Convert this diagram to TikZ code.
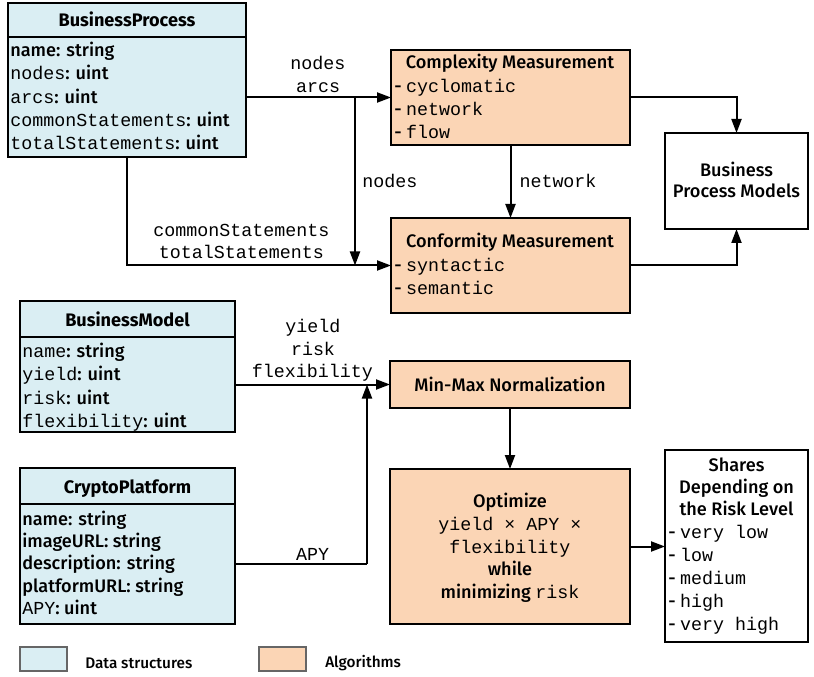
\documentclass[tikz,border=0pt]{standalone}
\usepackage{fontspec}
\setmainfont{Fira Sans Medium}[BoldFont={Fira Sans Bold}]
\newfontfamily\monofam{Liberation Mono}
\usetikzlibrary{arrows.meta,calc}
\definecolor{dsblue}{HTML}{DAEEF3}
\definecolor{algo}{HTML}{FBD5B5}
\newcommand\mtt[1]{{\monofam\fontsize{13.75pt}{16pt}\selectfont #1}}
\begin{document}
\begin{tikzpicture}[x=0.75pt,y=-0.75pt,
  box/.style={draw, line width=1.5pt, inner sep=0pt, outer sep=0pt},
  ds/.style={box, fill=dsblue},
  al/.style={box, fill=algo},
  wb/.style={box, fill=white},
  txt/.style={inner sep=0pt, anchor=base, yshift=-1.5pt, font=\fontsize{13.6pt}{15pt}\selectfont},
  ltxt/.style={txt, anchor=base west},
  htxt/.style={txt, font=\fontsize{13.6pt}{15pt}\selectfont\bfseries},
  arr/.style={line width=1.5pt, -{Triangle[length=10.5pt,width=7.5pt]}},
  ln/.style={line width=1.5pt},
  leg/.style={draw=gray!80!black, line width=1.2pt, minimum width=35.25pt, minimum height=18pt, inner sep=0pt}
]
\useasboundingbox (0,0) rectangle (814,677);
% ---------- BusinessProcess
\node[ds, minimum width=178.5pt, minimum height=115.5pt] (BP) at (127,80) {};
\draw[ln] ($(BP.north west)+(0,34)$) -- ($(BP.north east)+(0,34)$);
\node[htxt] (BPh) at (127,25) {BusinessProcess};
\node[ltxt] (BP1) at (10,55) {name: string};
\node[ltxt] (BP2) at (10,78) {\mtt{nodes}: uint};
\node[ltxt] (BP3) at (10,102) {\mtt{arcs}: uint};
\node[ltxt] (BP4) at (10,125) {\mtt{commonStatements}: uint};
\node[ltxt] (BP5) at (10,148) {\mtt{totalStatements}: uint};
% ---------- Complexity
\node[al, minimum width=179.25pt, minimum height=71.25pt] (CM) at (510.5,97.5) {};
\node[txt] (CMh) at (510,67) {Complexity Measurement};
\node[ltxt] (CM1) at (394,91) {- \mtt{cyclomatic}};
\node[ltxt] (CM2) at (394,114) {- \mtt{network}};
\node[ltxt] (CM3) at (394,137) {- \mtt{flow}};
% ---------- Conformity
\node[al, minimum width=179.25pt, minimum height=71.25pt] (CF) at (510.5,265.5) {};
\node[txt] (CFh) at (510,246) {Conformity Measurement};
\node[ltxt] (CF1) at (394,270) {- \mtt{syntactic}};
\node[ltxt] (CF2) at (394,293) {- \mtt{semantic}};
% ---------- Business Process Models
\node[wb, minimum width=107.25pt, minimum height=72pt] (BPM) at (736.5,181) {};
\node[txt] (BPM1) at (736.5,175) {Business};
\node[txt] (BPM2) at (736.5,196) {Process Models};
% ---------- BusinessModel
\node[ds, minimum width=161.25pt, minimum height=98.25pt] (BM) at (127.5,366.5) {};
\draw[ln] ($(BM.north west)+(0,36)$) -- ($(BM.north east)+(0,36)$);
\node[htxt] (BMh) at (127.5,324) {BusinessModel};
\node[ltxt] (BM1) at (22,356) {\mtt{name}: string};
\node[ltxt] (BM2) at (22,378) {\mtt{yield}: uint};
\node[ltxt] (BM3) at (22,402) {\mtt{risk}: uint};
\node[ltxt] (BM4) at (22,425) {\mtt{flexibility}: uint};
% ---------- CryptoPlatform
\node[ds, minimum width=161.25pt, minimum height=117pt] (CP) at (127.5,546) {};
\draw[ln] ($(CP.north west)+(0,36)$) -- ($(CP.north east)+(0,36)$);
\node[htxt] (CPh) at (127.5,491) {CryptoPlatform};
\node[ltxt] (CP1) at (22,523) {name: string};
\node[ltxt] (CP2) at (22,545) {imageURL: string};
\node[ltxt] (CP3) at (22,567) {description: string};
\node[ltxt] (CP4) at (22,590) {platformURL: string};
\node[ltxt] (CP5) at (22,612) {\mtt{APY}: uint};
% ---------- Min-Max
\node[al, minimum width=180pt, minimum height=35.25pt] (MM) at (510,384.5) {};
\node[txt] (MMt) at (510,389) {Min-Max Normalization};
% ---------- Optimize
\node[al, minimum width=180pt, minimum height=116.25pt] (OPT) at (510,546.5) {};
\node[txt] (OP1) at (510,505) {Optimize};
\node[txt] (OP2) at (510,528) {\mtt{yield × APY ×}};
\node[txt] (OP3) at (510,551) {\mtt{flexibility}};
\node[txt] (OP4) at (510,573) {while};
\node[txt] (OP5) at (510,596) {minimizing \mtt{risk}};
% ---------- Shares
\node[wb, minimum width=107.25pt, minimum height=144pt] (SH) at (736.5,546) {};
\node[txt] (SH1) at (736.5,469) {Shares};
\node[txt] (SH2) at (736.5,491) {Depending on};
\node[txt] (SH3) at (736.5,513) {the Risk Level};
\node[ltxt] (SH4) at (668,536) {- \mtt{very low}};
\node[ltxt] (SH5) at (668,559) {- \mtt{low}};
\node[ltxt] (SH6) at (668,582) {- \mtt{medium}};
\node[ltxt] (SH7) at (668,605) {- \mtt{high}};
\node[ltxt] (SH8) at (668,628) {- \mtt{very high}};
% ---------- connectors
\coordinate (j1) at (355,97.5);
\coordinate (j3) at (367,564);
\draw[arr] (CM.west -| BP.east) -- (CM.west);
\draw[arr] (j1) -- (j1 |- CF.west);
\draw[arr] (BP.south) -- (BP.south |- CF.west) -- (CF.west);
\draw[arr] (CM.south) -- (CF.north);
\draw[arr] (CM.east) -| (BPM.north);
\draw[arr] (CF.east) -| (BPM.south);
\draw[arr] (MM.west -| BM.east) -- (MM.west);
\draw[ln] (j3 -| CP.east) -- (j3);
\draw[arr] (j3) -- (j3 |- MM.west);
\draw[arr] (MM.south) -- (OPT.north);
\draw[arr] (OPT.east) -- (SH.west |- OPT.east);
% ---------- labels
\node[txt] (L1) at (318,68) {\mtt{nodes}};
\node[txt] (L2) at (318,91) {\mtt{arcs}};
\node[txt] (L3) at (390,186) {\mtt{nodes}};
\node[txt] (L4) at (241.5,235) {\mtt{commonStatements}};
\node[txt] (L5) at (241.5,257) {\mtt{totalStatements}};
\node[txt] (L6) at (558,186) {\mtt{network}};
\node[txt] (L7) at (313,331) {\mtt{yield}};
\node[txt] (L8) at (313,353) {\mtt{risk}};
\node[txt] (L9) at (312.5,376) {\mtt{flexibility}};
\node[txt] (L10) at (312.5,558) {\mtt{APY}};
% ---------- legend
\node[leg, fill=dsblue] (LG1) at (43.5,659) {};
\node[txt, anchor=west, font=\fontsize{11.5pt}{13pt}\selectfont] (LG1t) at (85,661) {Data structures};
\node[leg, fill=algo] (LG2) at (282.5,659) {};
\node[txt, anchor=west, font=\fontsize{11.5pt}{13pt}\selectfont] (LG2t) at (325,661) {Algorithms};
\end{tikzpicture}
\end{document}
